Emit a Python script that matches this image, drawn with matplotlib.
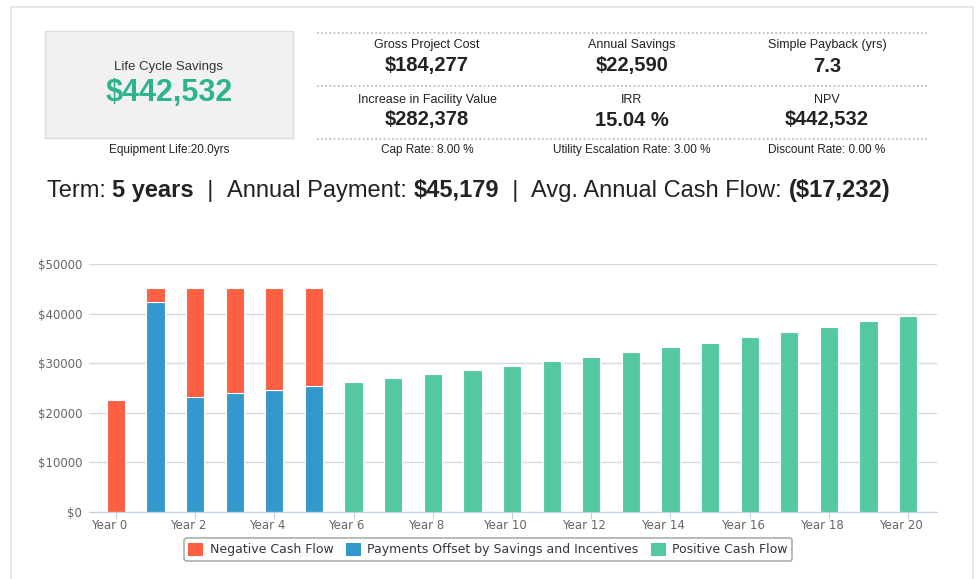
import matplotlib
matplotlib.use('Agg')
import matplotlib.pyplot as plt
import matplotlib.transforms as mtransforms
from matplotlib.patches import Rectangle, Patch
from matplotlib.lines import Line2D
from matplotlib.ticker import FuncFormatter

# ---------------------------------------------------------------------------
# data
years = list(range(21))
neg_cash = [22590, 2879, 21911, 21213, 20494, 19753] + [0]*15
payments_offset = [0, 42300, 23268, 23966, 24685, 25426] + [0]*15
pos_cash = [0]*6 + [26189, 26974, 27784, 28617, 29476, 30360, 31271, 32209,
                    33175, 34170, 35196, 36251, 37339, 38459, 39613]
tick_years = list(range(0, 21, 2))
tick_labels = ['Year %d' % y for y in tick_years]

summary_top = [('Gross Project Cost', '$184,277'),
               ('Annual Savings', '$22,590'),
               ('Simple Payback (yrs)', '7.3')]
summary_mid = [('Increase in Facility Value', '$282,378'),
               ('IRR', '15.04 %'),
               ('NPV', '$442,532')]
summary_notes = ['Cap Rate: 8.00 %', 'Utility Escalation Rate: 3.00 %',
                 'Discount Rate: 0.00 %']
term_parts = [('Term: ', 'normal'), ('5 years', 'bold'), ('  |  ', 'normal'),
              ('Annual Payment: ', 'normal'), ('$45,179', 'bold'),
              ('  |  ', 'normal'), ('Avg. Annual Cash Flow: ', 'normal'),
              ('($17,232)', 'bold')]

# colours
c_red = '#fc5f42'
c_blue = '#3398cb'
c_green = '#53c8a3'
c_txt = '#222222'

W, H = 977, 579
fig = plt.figure(figsize=(W/100, H/100), dpi=100)
plt.rcParams['font.family'] = ['Liberation Sans', 'DejaVu Sans']

def fx(px):
    return px / W

def fy(py):
    return 1 - py / H

# outer panel border
fig.patches.append(Rectangle((fx(11), fy(600)), fx(962), fy(7) - fy(600),
                             transform=fig.transFigure, fill=False,
                             edgecolor='#e2e2e2', linewidth=1.2))

# life cycle savings box
fig.patches.append(Rectangle((fx(45), fy(138)), fx(248), fy(31) - fy(138),
                             transform=fig.transFigure, facecolor='#f1f1f1',
                             edgecolor='#dcdcdc', linewidth=1))
fig.text(fx(169), fy(67), 'Life Cycle Savings', ha='center', va='center',
         fontsize=9.5, color='#333333')
fig.text(fx(169), fy(93), '$442,532', ha='center', va='center',
         fontsize=22, fontweight='bold', color='#2eb38f')
fig.text(fx(169), fy(150), 'Equipment Life:20.0yrs', ha='center',
         va='center', fontsize=8.5, color=c_txt)

# dotted separators
for yy in [33, 86, 139]:
    fig.lines.append(Line2D([fx(317), fx(927)], [fy(yy), fy(yy)],
                            transform=fig.transFigure, color='#b5b5b5',
                            linewidth=1.2, linestyle=(0, (1, 1.5))))

col_x = [427, 632, 827]
for i, (lab, val) in enumerate(summary_top):
    fig.text(fx(col_x[i]), fy(45), lab, ha='center', va='center',
             fontsize=9, color=c_txt)
    fig.text(fx(col_x[i]), fy(66), val, ha='center', va='center',
             fontsize=14.5, fontweight='bold', color=c_txt)
for i, (lab, val) in enumerate(summary_mid):
    fig.text(fx(col_x[i]), fy(100), lab, ha='center', va='center',
             fontsize=9, color=c_txt)
    fig.text(fx(col_x[i]), fy(120), val, ha='center', va='center',
             fontsize=14.5, fontweight='bold', color=c_txt)
for i, note in enumerate(summary_notes):
    fig.text(fx(col_x[i]), fy(150), note, ha='center', va='center',
             fontsize=8.5, color=c_txt)

# term line: pieces placed one after another
renderer = fig.canvas.get_renderer()
xpos = 47
for txt, wt in term_parts:
    t = fig.text(fx(xpos), fy(197), txt, ha='left', va='baseline',
                 fontsize=17, fontweight=wt, color=c_txt)
    bb = t.get_window_extent(renderer=renderer)
    xpos += bb.width

# ---------------------------------------------------------------------------
# bar chart
ax = fig.add_axes([fx(89), fy(512), fx(937) - fx(89), fy(264) - fy(512)])
bw = 0.46
ax.bar(years, payments_offset, width=bw, color=c_blue, edgecolor='white',
       linewidth=0.8, zorder=3)
ax.bar(years, neg_cash, width=bw, bottom=payments_offset, color=c_red,
       edgecolor='white', linewidth=0.8, zorder=3)
ax.bar(years, pos_cash, width=bw, color=c_green, edgecolor='white',
       linewidth=0.8, zorder=3)

ax.set_xlim(-0.68, 20.73)
ax.set_ylim(0, 50000)
ax.set_yticks(range(0, 50001, 10000))
ax.yaxis.set_major_formatter(FuncFormatter(lambda v, p: '$%d' % v))
ax.set_xticks(tick_years)
ax.set_xticklabels(tick_labels)
ax.grid(axis='y', color='#d9d9d9', linewidth=1, zorder=0)
for s in ['top', 'right', 'left']:
    ax.spines[s].set_visible(False)
ax.spines['bottom'].set_color('#c0d0e0')
ax.tick_params(axis='y', length=0, pad=5, labelsize=8.5, labelcolor='#666666')
ax.tick_params(axis='x', length=5, color='#c0d0e0', pad=0, labelsize=8.5,
               labelcolor='#666666')
shift = mtransforms.ScaledTranslation(-7/100, 0, fig.dpi_scale_trans)
for lbl in ax.get_xticklabels():
    lbl.set_transform(lbl.get_transform() + shift)
for lbl in ax.get_xticklabels() + ax.get_yticklabels():
    lbl.set_fontfamily('DejaVu Sans')

handles = [Patch(facecolor=c_red, label='Negative Cash Flow'),
           Patch(facecolor=c_blue,
                 label='Payments Offset by Savings and Incentives'),
           Patch(facecolor=c_green, label='Positive Cash Flow')]
leg = fig.legend(handles=handles, loc='center',
                 bbox_to_anchor=(fx(488), fy(549.5)), ncol=3, frameon=True,
                 fancybox=True, edgecolor='#999999',
                 handlelength=1.2, handleheight=1.2, handletextpad=0.5,
                 columnspacing=1.0, borderpad=0.35,
                 prop={'family': 'DejaVu Sans', 'size': 9})
leg.get_frame().set_linewidth(1.2)
for t in leg.get_texts():
    t.set_color('#333344')

fig.savefig('out.png', dpi=100)
